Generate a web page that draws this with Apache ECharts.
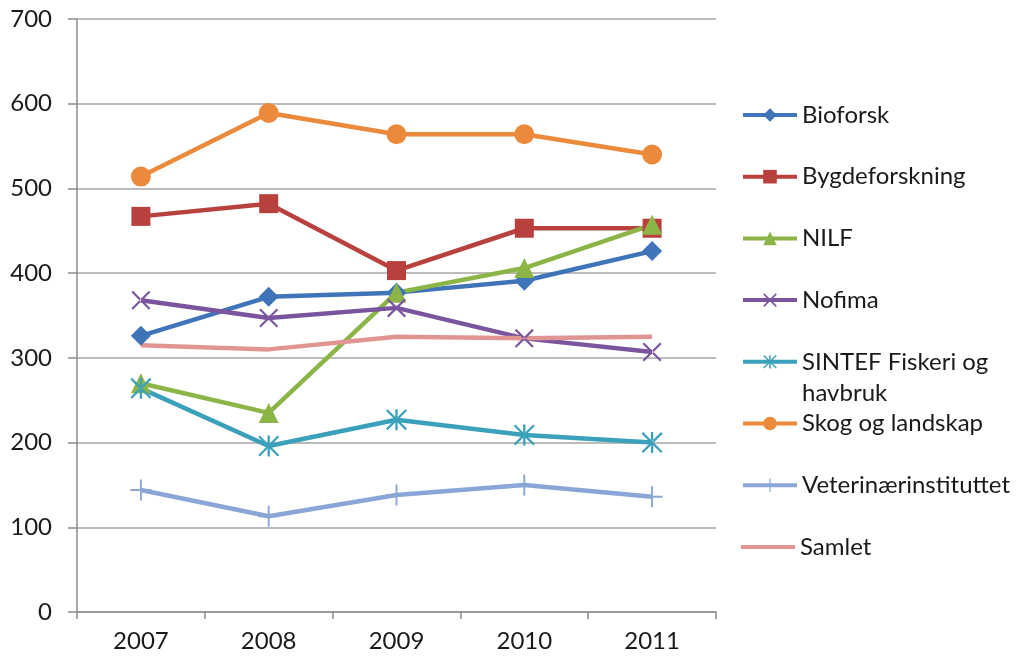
<!DOCTYPE html>
<html>
<head>
<meta charset="utf-8">
<script src="https://cdn.jsdelivr.net/npm/echarts@6/dist/echarts.min.js"></script>
<style>
  html, body { margin: 0; padding: 0; background: #fff; }
  #chart { width: 1023px; height: 659px; }
</style>
</head>
<body>
<div id="chart"></div>
<script>
const years = ['2007', '2008', '2009', '2010', '2011'];

const bioforsk = [326, 372, 377, 391, 426];
const bygdeforskning = [467, 482, 403, 453, 453];
const nilf = [270, 235, 377, 406, 457];
const nofima = [368, 347, 359, 323, 307];
const sintef = [264, 196, 227, 209, 200];
const skog = [514, 589, 564, 564, 540];
const veterinar = [144, 113, 138, 150, 136];
const samlet = [315, 310, 325, 323, 325];

// egne markører (kryss, stjerne, pluss)
const crossPath = 'path://M-10,-8.4 L-8.4,-10 L10,8.4 L8.4,10 Z M10,-8.4 L8.4,-10 L-10,8.4 L-8.4,10 Z';
const starPath = 'path://M-10,-8.5 L-8.5,-10 L10,8.5 L8.5,10 Z M10,-8.5 L8.5,-10 L-10,8.5 L-8.5,10 Z M-1.1,-10 L1.1,-10 L1.1,10 L-1.1,10 Z';
const plusPath = 'path://M-0.9,-10 L0.9,-10 L0.9,10 L-0.9,10 Z M-10,-0.9 L10,-0.9 L10,0.9 L-10,0.9 Z';
const linePath = 'path://M0,0 L54,0 L54,4 L0,4 Z';

const seriesDefs = [
  { name: 'Bioforsk', data: bioforsk, color: '#3f74b9', symbol: 'diamond', size: 20 },
  { name: 'Bygdeforskning', data: bygdeforskning, color: '#b8413e', symbol: 'rect', size: 19 },
  { name: 'NILF', data: nilf, color: '#8cb548', symbol: 'triangle', size: 20 },
  { name: 'Nofima', data: nofima, color: '#7a559d', symbol: crossPath, size: 19 },
  { name: 'SINTEF Fiskeri og havbruk', data: sintef, color: '#3ba1bb', symbol: starPath, size: 21 },
  { name: 'Skog og landskap', data: skog, color: '#ea8a3a', symbol: 'circle', size: 20 },
  { name: 'Veterinærinstituttet', data: veterinar, color: '#8aa6d6', symbol: plusPath, size: 21 },
  { name: 'Samlet', data: samlet, color: '#e09593', symbol: 'none', size: 0 }
];

const font = 'Lato, "Open Sans", sans-serif';
const legendLine = 31;

const legends = seriesDefs.map((s, i) => {
  const center = 115 + i * 61.7;
  const isSintef = s.name === 'SINTEF Fiskeri og havbruk';
  const isSamlet = s.symbol === 'none';
  return {
    data: [isSamlet ? { name: s.name, icon: linePath } : s.name],
    orient: 'vertical',
    left: 741,
    top: center - (isSintef ? legendLine * 1.5 : legendLine / 2),
    padding: 0,
    itemWidth: 54,
    itemHeight: isSamlet ? 4 : 17,
    itemGap: 0,
    selectedMode: false,
    lineStyle: { width: 4 },
    // tom første linje gjør at "SINTEF Fiskeri og" står midt på symbolet
    formatter: name => isSintef ? ' \nSINTEF Fiskeri og\nhavbruk' : name,
    textStyle: {
      fontFamily: font,
      fontSize: 24,
      color: '#1a1a1a',
      lineHeight: legendLine
    }
  };
});

const chart = echarts.init(document.getElementById('chart'));
chart.setOption({
  animation: false,
  backgroundColor: '#fff',
  grid: { left: 77, right: 307, top: 19, bottom: 47, containLabel: false },
  legend: legends,
  xAxis: {
    type: 'category',
    data: years,
    boundaryGap: true,
    axisLine: { lineStyle: { color: '#8c8c8c', width: 1.5 } },
    axisTick: { show: true, length: 7, lineStyle: { color: '#8c8c8c', width: 1.5 } },
    axisLabel: { fontFamily: font, fontSize: 24, color: '#1a1a1a', margin: 17 },
    splitLine: { show: false }
  },
  yAxis: {
    type: 'value',
    min: 0,
    max: 700,
    interval: 100,
    axisLine: { show: true, lineStyle: { color: '#8c8c8c', width: 1.5 } },
    axisTick: { show: true, length: 9, lineStyle: { color: '#8c8c8c', width: 1.5 } },
    axisLabel: { fontFamily: font, fontSize: 24, color: '#1a1a1a', margin: 25 },
    splitLine: { show: true, lineStyle: { color: '#a6a6a6', width: 1.5 } }
  },
  series: seriesDefs.map(s => ({
    name: s.name,
    type: 'line',
    data: s.data,
    symbol: s.symbol,
    symbolSize: s.size,
    showSymbol: s.symbol !== 'none',
    lineStyle: { color: s.color, width: 4.5 },
    itemStyle: { color: s.color, opacity: 1 },
    emphasis: { disabled: true }
  }))
});
</script>
</body>
</html>
